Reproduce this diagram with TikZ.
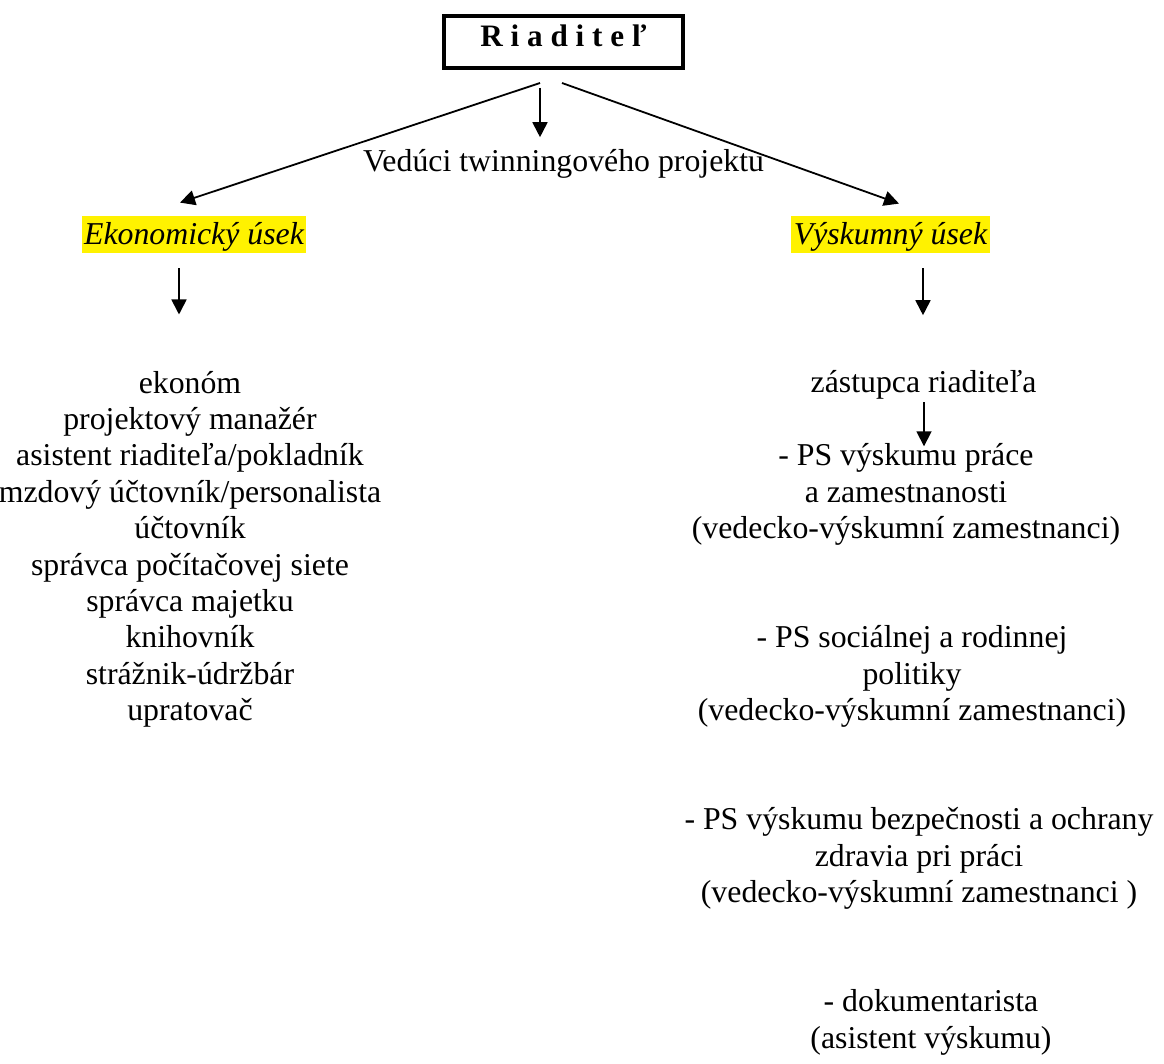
\documentclass[tikz,border=0pt]{standalone}
\usepackage{fontspec}
\setmainfont{Liberation Serif}
\usetikzlibrary{arrows.meta}

\tikzset{
  txt/.style={inner sep=0pt, font=\fontsize{15.9}{18.2}\selectfont},
  line/.style={txt, anchor=base, text height=10.7pt, text depth=3.4pt},
  grp/.style={txt, align=center, anchor=base},
  usek/.style={txt, anchor=base, fill=yellow, inner xsep=1.2pt,
    text height=14.5pt, text depth=4pt,
    font=\fontsize{15.9}{18.2}\selectfont\itshape},
  arr/.style={-{Triangle[length=7.5pt,width=7.5pt]}, line width=0.9pt},
}

\begin{document}
\begin{tikzpicture}[x=0.5pt, y=-0.5pt]
    \useasboundingbox (0,0) rectangle (1164,1064);

    \node[draw, line width=2pt, inner sep=0pt, minimum width=119.5pt,
      text height=15.5pt, text depth=10.5pt, anchor=base,
      font=\fontsize{15.6}{18.2}\selectfont\bfseries] (riaditel) at (563.5,47) {R i a d i t e ľ};
    \node[line] (veduci) at (563.5,172) {Vedúci twinningového projektu};
    \node[usek] (eko) at (194,245) {Ekonomický úsek};
    \node[usek] (vysk) at (890.5,245) {Výskumný úsek};

    % ekonomicky usek (base = last line)
    \node[grp] (ekolist) at (190,720.6) {ekonóm\\projektový manažér\\asistent riaditeľa/pokladník\\mzdový účtovník/personalista\\účtovník\\správca počítačovej siete\\správca majetku\\knihovník\\strážnik-údržbár\\upratovač};

    % vyskumny usek
    \node[line] (zastupca) at (923.5,393) {zástupca riaditeľa};
    \node[grp] (ps1) at (906,538.6) {- PS výskumu práce\\a zamestnanosti\\(vedecko-výskumní zamestnanci)};
    \node[grp] (ps2) at (912,720.6) {- PS sociálnej a rodinnej\\politiky\\(vedecko-výskumní zamestnanci)};
    \node[grp] (ps3) at (919,902.6) {- PS výskumu bezpečnosti a ochrany\\zdravia pri práci\\(vedecko-výskumní zamestnanci )};
    \node[grp] (dok) at (931,1048.2) {- dokumentarista\\(asistent výskumu)};

    \draw[arr] ([xshift=-11.75pt,yshift=-6.5pt]riaditel.south) -- ([xshift=-7pt,yshift=6.5pt]eko.north);
    \draw[arr] ([xshift=-11.75pt,yshift=-9pt]riaditel.south) -- ([xshift=-11.75pt,yshift=6.5pt]veduci.north);
    \draw[arr] ([xshift=-0.75pt,yshift=-6.5pt]riaditel.south) -- ([xshift=4.25pt,yshift=6pt]vysk.north);
    \draw[arr] ([xshift=-7.5pt,yshift=-7.5pt]eko.south) -- ([xshift=-5.5pt,yshift=28pt]ekolist.north);
    \draw[arr] ([xshift=16.25pt,yshift=-7.5pt]vysk.south) -- ([xshift=-0.25pt,yshift=28pt]zastupca.north);
    \draw[arr] ([xshift=0.25pt,yshift=-1pt]zastupca.south) -- ([xshift=9pt,yshift=-1.5pt]ps1.north);
\end{tikzpicture}
\end{document}
